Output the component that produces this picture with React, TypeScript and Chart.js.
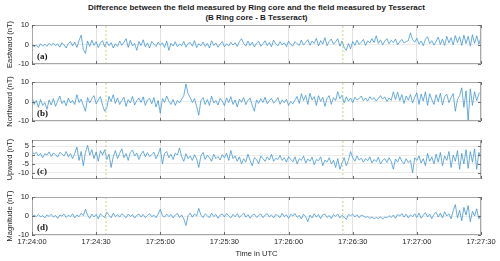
import React, { useEffect, useRef } from "react";
import { Chart, registerables } from "chart.js";

Chart.register(...registerables);
Chart.defaults.font.family = '"Liberation Sans", Arial, sans-serif';

// ---------- data ----------
const xTickLabels = ["17:24:00", "17:24:30", "17:25:00", "17:25:30", "17:26:00", "17:26:30", "17:27:00", "17:27:30"];
const xTickSeconds = [0, 30, 60, 90, 120, 150, 180, 210];
const sampleSeconds = Array.from({ length: 211 }, (_, i) => i);
const eventSeconds = [34.6, 145.4];

const eastward = [
  0.5, -1.2, -0.3, -1.5, 0.4, -0.8, 0.2, -1.0, 0.6, -0.5,
  0.8, -0.6, 0.3, -1.4, 0.9, -0.2, -1.8, 0.5, 1.5, -0.7,
  1.2, -1.5, 2.0, 4.8, -2.5, -4.6, 1.8, -1.0, 2.2, -0.5,
  1.4, -1.6, 0.8, 2.0, -1.2, 1.5, -0.6, 1.0, -1.8, 0.4,
  -1.0, 1.8, -0.4, 1.2, 3.0, -1.5, 2.2, -0.8, 0.6, -3.0,
  1.5, -0.5, 2.4, -1.2, 0.8, -1.8, 1.6, 0.2, -1.0, 1.2,
  -0.4, 0.9, -1.5, 1.8, -3.0, 0.6, -0.8, 1.4, -1.2, 0.3,
  -0.6, 1.6, -1.4, 0.5, 1.0, -0.9, 2.0, -1.6, 0.4, -0.7,
  1.3, -1.0, 0.6, -1.8, 1.9, -0.5, 0.8, -1.4, 0.3, 1.5,
  -1.2, 0.4, -0.8, 1.1, -0.3, 0.9, -1.0, 1.5, 3.0, 0.5,
  -0.8, 1.8, -0.5, 1.2, -1.3, 0.7, 1.6, -0.9, 0.4, 1.9,
  -0.6, 1.0, -1.2, 2.2, 0.3, -0.7, 1.4, -0.2, 0.9, -1.1,
  1.7, 0.1, -0.8, 1.5, 0.4, -0.5, 2.3, -0.3, 1.1, 2.5,
  -0.4, 1.8, 0.6, 3.2, -0.8, 2.0, 0.2, 3.5, -0.6, 1.6,
  2.8, 0.1, 1.4, 3.0, -0.9, 1.8, -1.5, -3.0, 0.5, -2.2,
  1.6, -0.4, 2.2, 0.0, 1.2, 2.6, -0.5, 1.9, 0.8, 3.0,
  1.0, 4.5, 0.6, 2.4, -0.2, 1.8, 3.0, 0.4, 2.2, 1.0,
  2.8, -0.2, 1.5, 2.6, 0.8, 1.4, 2.0, 6.0, 2.5, 1.2,
  3.2, 0.2, 1.8, -0.6, 2.6, 4.0, 0.5, 2.0, -0.3, 1.5,
  3.8, 0.0, 2.8, -0.5, 4.2, 0.8, 3.5, -0.2, 4.6, 1.0,
  4.0, -0.5, 4.8, 0.5, 4.2, -0.8, 5.0, 0.6, 4.5, 0.2, 3.8,
];

const northward = [
  2.5, -1.5, 0.5, -3.0, 1.0, -2.0, -0.5, -4.0, 0.8, -1.8,
  1.5, -2.5, 0.2, 2.8, -1.0, 0.5, -2.2, 1.8, -0.8, 0.6,
  -1.5, 3.5, -0.5, 1.2, -2.0, -5.0, 2.0, -0.8, 1.5, 3.0,
  -1.2, 0.8, 2.5, -2.0, -5.0, -3.2, 2.6, 0.0, 3.5, -1.0,
  1.8, -1.5, 0.5, 2.2, -2.5, 1.0, -0.8, 2.6, -1.8, 0.4,
  1.8, -0.5, 2.4, -2.0, 0.8, 1.6, -1.2, 2.0, -2.8, 0.5,
  -6.0, 1.5, -0.5, 2.8, 0.2, -1.5, 1.0, -2.0, 0.6, -0.8,
  1.2, 3.0, 9.0, 4.0, 2.0, -0.5, 1.5, -2.5, -7.0, 0.5,
  2.0, -1.5, 1.0, -2.0, 2.8, -0.8, 0.5, -1.8, 1.6, 0.2,
  -2.2, 1.8, -0.6, 2.5, -1.5, 0.8, -2.8, 1.2, -0.4, 2.0,
  -1.6, 0.6, 1.8, -2.0, -5.0, 0.8, -1.0, 1.5, -0.5, 2.2,
  -1.2, 0.4, 1.6, -0.8, 0.2, 2.0, -1.4, 0.8, -0.6, 1.2,
  -2.0, 0.0, -1.2, 0.8, 2.6, -1.0, 4.0, 0.5, 3.2, -1.5,
  4.2, 0.8, 2.5, -2.0, 3.0, 0.0, 2.2, -2.5, 1.5, 3.0,
  -1.5, 2.0, 0.5, 5.0, 1.5, 3.2, -0.8, 2.4, 0.2, 1.8,
  -0.6, 2.2, 0.8, 1.5, 2.8, 0.4, 1.8, 0.2, 2.5, 1.0,
  2.0, 0.2, 1.6, 3.0, 1.2, 2.4, 0.0, 1.8, 0.6, 5.0,
  1.0, 4.8, 0.5, 3.5, -1.0, 2.8, 0.6, 3.6, -0.8, 2.2,
  4.5, -1.5, 3.8, 0.2, 5.0, -2.0, 4.0, 1.0, -1.5, 3.5,
  0.0, 4.2, -1.8, 2.5, 3.8, -0.6, 2.0, 4.0, -5.0, 1.0,
  3.0, 7.0, -3.0, 5.5, -10.0, 6.5, -2.0, 5.0, 0.5, 4.0, 5.0,
];

const upward = [
  2.0, 0.5, 1.5, -0.5, 1.0, -1.5, 0.8, 0.0, 1.8, -0.8,
  1.2, 0.3, -1.2, 1.5, 0.6, -0.5, 2.0, -1.0, 0.8, -2.0,
  1.0, 4.5, -3.0, 2.0, -6.0, 1.5, 5.5, 0.0, 3.0, -2.0,
  1.8, -3.5, 2.5, 0.0, 3.0, -2.5, 0.5, -7.0, -1.0, 2.5,
  -2.0, 1.0, 3.5, -1.5, 0.8, -3.0, 1.5, 2.8, -0.5, 1.2,
  -2.5, 0.6, 2.2, -1.0, 1.4, -0.8, 0.2, 1.6, -2.0, 0.5,
  4.0, -5.0, 1.0, 2.0, -1.5, 0.5, -2.5, 1.2, 0.0, 4.0,
  -1.0, -3.5, 0.8, -2.0, -0.5, -3.0, 0.2, -2.2, -7.0, -0.5,
  1.5, -2.5, 0.0, -1.5, -3.5, 0.5, -2.0, -0.8, -2.8, 0.2,
  -1.5, 1.0, -3.0, 2.5, -2.0, -0.5, -3.5, -1.0, -5.0, -2.0,
  -4.0, 0.5, -3.0, -6.0, -1.5, -2.5, -5.0, -0.5, -2.0, -3.5,
  -1.0, -2.8, 0.5, -3.5, -1.8, -2.5, -0.2, -3.0, -1.5, -4.0,
  -0.8, -2.5, -3.8, -1.0, -5.0, -2.0, -3.0, -0.5, -4.5, -2.2,
  -3.5, -1.2, -5.5, -2.5, -3.2, -1.0, -6.0, -2.8, -4.0, -1.5,
  -5.0, -3.0, -7.0, -2.0, -8.0, -4.5, -1.5, -6.0, -3.0, 2.0,
  -1.5, -3.5, -0.5, -2.8, -1.8, -4.0, -2.0, -3.2, -1.0, -4.5,
  -2.5, -3.8, -1.2, -5.0, -3.0, -2.0, -4.2, -1.5, -3.5, -8.0,
  -2.2, -4.0, -1.0, -3.5, -5.0, -2.0, -4.2, -3.0, -10.0, -1.5,
  -3.0, -0.5, -4.5, -2.0, -6.0, 1.0, -3.5, -1.0, -5.0, 0.5,
  -4.0, 1.5, -6.0, -0.5, -3.0, 2.0, -7.0, 0.0, -3.5, 2.5,
  -8.0, 1.0, -5.0, 3.0, -7.5, 2.0, -4.0, 3.5, -8.0, 1.5, -2.0,
];

const magnitude = [
  -0.8, 0.5, -0.3, 0.8, -0.5, 0.2, -1.0, 0.6, -0.2, 0.9,
  -0.6, 0.3, -1.2, 0.5, 0.0, 1.0, -0.8, 0.4, -0.3, 1.2,
  -1.0, 0.6, -0.4, 1.5, 0.2, 3.5, 0.5, -1.2, 1.0, -0.5,
  0.8, -1.5, 1.2, 0.0, -0.8, 2.0, 0.4, -1.0, 1.5, -0.3,
  0.7, -0.6, 1.2, 0.2, -0.9, 1.0, -0.2, 0.6, -1.1, 0.4,
  1.0, -0.5, 0.8, -0.8, 0.3, 1.2, -0.4, 0.5, -0.9, 1.0,
  3.5, 0.2, -0.6, 1.0, -0.3, 0.8, -1.0, 0.5, 1.4, -0.8,
  0.6, -1.5, -5.0, 0.2, 1.5, -0.6, 1.0, 0.0, 4.0, 0.5,
  -0.8, 1.2, 0.2, -1.0, 1.5, -0.3, 0.8, -1.2, 0.6, 1.0,
  -0.5, 1.4, 0.0, -1.0, 0.9, -0.4, 1.2, -0.8, 0.5, 1.6,
  -0.6, 0.8, -1.2, 0.4, 1.0, -0.7, 0.3, 1.1, -0.9, 0.5,
  1.2, -0.5, 0.6, -1.0, 0.8, 0.2, -0.8, 1.4, -0.3, 0.6,
  -1.2, 0.9, 0.0, 1.3, -0.7, 0.4, -1.5, 1.0, -0.4, -3.0,
  0.5, -1.0, 1.2, -0.6, 0.8, -1.4, 0.6, 1.0, -0.8, 0.3,
  -1.3, 0.8, -0.2, 1.1, -1.0, 0.4, -0.6, -1.8, 0.9, 0.2,
  1.0, -0.5, 0.7, -0.9, 0.5, 0.0, -0.7, -0.3, -1.2, -0.5,
  -1.5, -0.8, -1.3, -0.4, -1.6, -0.6, -1.0, 0.2, -0.8, 0.5,
  -1.2, 0.8, 0.0, 1.3, -0.6, 1.0, -1.0, 0.6, -0.4, 1.2,
  -0.8, 1.5, -1.2, 0.4, 1.8, -0.5, 1.0, -1.4, 0.9, 2.0,
  -0.6, 1.6, -1.0, 2.2, 0.0, 1.2, -1.5, 2.8, 6.0, -1.0,
  3.0, -2.5, 4.5, 0.5, 5.5, -3.0, 2.5, 0.0, 3.8, -1.5, 1.0,
];

const panelSeries = [eastward, northward, upward, magnitude];
const panelLetters = ["(a)", "(b)", "(c)", "(d)"];
const axisTitles = ["Eastward (nT)", "Northward (nT)", "Upward (nT)", "Magnitude (nT)"];
const yMins = [-10, -10, -13.5, -10];
const yMaxs = [10, 10, 8.5, 10];
const yTickValues = [
  [-10, -5, 0, 5, 10],
  [-10, -5, 0, 5, 10],
  [-10, -5, 0, 5],
  [-10, -5, 0, 5, 10],
];
const titleLines = [
  "Difference between the field measured by Ring core and the field measured by Tesseract",
  "(B Ring core - B Tesseract)",
];
const xAxisTitle = "Time in UTC";

// ---------- layout ----------
const PANEL_TOPS = [25, 82, 140, 197];
const PANEL_HEIGHTS = [39, 39, 39, 38];
const PAD_TOP = 18;
const PLOT_LEFT = 32;
const PLOT_RIGHT = 481;

const framePlugin = {
  id: "panelFrame",
  afterDraw(chart: any, _args: any, opts: any) {
    const { ctx, chartArea } = chart;
    const { left, right, top, bottom } = chartArea;
    ctx.save();
    ctx.strokeStyle = "#a8a8a8";
    ctx.lineWidth = 1;
    ctx.strokeRect(Math.round(left) + 0.5, Math.round(top) + 0.5, Math.round(right - left) - 1, Math.round(bottom - top) - 1);
    ctx.strokeStyle = "#6a6a6a";
    ctx.beginPath();
    const xs = chart.scales.x;
    xs.ticks.forEach((t: any) => {
      const px = Math.round(xs.getPixelForValue(t.value)) + 0.5;
      ctx.moveTo(px, bottom);
      ctx.lineTo(px, bottom - 3);
      ctx.moveTo(px, top);
      ctx.lineTo(px, top + 3);
    });
    const ys = chart.scales.y;
    ys.ticks.forEach((t: any) => {
      const py = Math.round(ys.getPixelForValue(t.value)) + 0.5;
      ctx.moveTo(left, py);
      ctx.lineTo(left + 3, py);
      ctx.moveTo(right, py);
      ctx.lineTo(right - 3, py);
    });
    ctx.stroke();
    ctx.fillStyle = "#111";
    ctx.font = 'bold 9px "Liberation Serif", "Times New Roman", serif';
    ctx.textBaseline = "middle";
    ctx.textAlign = "left";
    ctx.fillText(opts.label, left + 5, bottom - 7);
    ctx.restore();
  },
};

function fmtTick(v: number) {
  const i = xTickSeconds.indexOf(v);
  return i >= 0 ? xTickLabels[i] : "";
}

function Panel({ idx }: { idx: number }) {
  const ref = useRef<HTMLCanvasElement>(null);
  const isLast = idx === panelSeries.length - 1;
  const bottomExtra = isLast ? 261 - (PANEL_TOPS[idx] + PANEL_HEIGHTS[idx]) : 18;
  const canvasTop = PANEL_TOPS[idx] - PAD_TOP;
  const canvasHeight = PAD_TOP + PANEL_HEIGHTS[idx] + bottomExtra;

  useEffect(() => {
    const values = panelSeries[idx];
    const ymin = yMins[idx];
    const ymax = yMaxs[idx];
    const datasets: any[] = [
      {
        data: values.map((v, i) => ({ x: sampleSeconds[i], y: v })),
        borderColor: "#3a91d2",
        borderWidth: 0.75,
        pointRadius: 0,
        tension: 0,
        order: 1,
      },
      ...eventSeconds.map((s) => ({
        data: [
          { x: s, y: ymin },
          { x: s, y: ymax },
        ],
        borderColor: "#b3cc62",
        borderWidth: 0.8,
        borderDash: [2, 2],
        pointRadius: 0,
        order: 0,
      })),
    ];
    const chart = new Chart(ref.current!, {
      type: "line",
      data: { datasets },
      plugins: [framePlugin],
      options: {
        animation: false,
        responsive: false,
        events: [],
        layout: { padding: { top: PAD_TOP, right: 500 - PLOT_RIGHT, left: 0, bottom: 0 } },
        plugins: {
          legend: { display: false },
          tooltip: { enabled: false },
          panelFrame: { label: panelLetters[idx] },
        } as any,
        scales: {
          x: {
            type: "linear",
            min: 0,
            max: 210,
            afterBuildTicks: (s: any) => {
              s.ticks = xTickSeconds.map((v) => ({ value: v }));
            },
            afterFit: (s: any) => {
              s.height = bottomExtra;
            },
            ticks: {
              display: isLast,
              autoSkip: false,
              maxRotation: 0,
              padding: 2,
              color: "#262626",
              font: { size: 7.5 },
              callback: (v: any) => fmtTick(Number(v)),
            },
            grid: { color: "#e2e2e2", drawTicks: false, lineWidth: 1 },
            border: { display: false },
            title: {
              display: isLast,
              text: xAxisTitle,
              color: "#262626",
              font: { size: 7.5 },
              padding: { top: 0, bottom: 3 },
            },
          },
          y: {
            type: "linear",
            min: ymin,
            max: ymax,
            afterBuildTicks: (s: any) => {
              s.ticks = yTickValues[idx].map((v) => ({ value: v }));
            },
            afterFit: (s: any) => {
              s.width = PLOT_LEFT;
            },
            ticks: {
              color: "#262626",
              font: { size: 7.5 },
              padding: 3,
              callback: (v: any) => String(v),
            },
            grid: { color: "#ececec", drawTicks: false, lineWidth: 1 },
            border: { display: false },
            title: {
              display: true,
              text: axisTitles[idx],
              color: "#262626",
              font: { size: 7.5 },
              padding: { top: 5, bottom: 0 },
            },
          },
        },
      } as any,
    });
    return () => chart.destroy();
  }, [idx]);

  return (
    <canvas
      ref={ref}
      width={500}
      height={canvasHeight}
      style={{ position: "absolute", left: 0, top: canvasTop, width: 500, height: canvasHeight }}
    />
  );
}

export default function App() {
  return (
    <div
      style={{
        position: "absolute",
        left: 0,
        top: 0,
        width: 500,
        height: 261,
        background: "#ffffff",
        overflow: "hidden",
      }}
    >
      {titleLines.map((t, i) => (
        <div
          key={i}
          style={{
            position: "absolute",
            left: 0,
            width: PLOT_LEFT + PLOT_RIGHT,
            top: 3 + i * 10,
            textAlign: "center",
            font: 'bold 8px "Liberation Sans", Arial, sans-serif',
            lineHeight: "10px",
            color: "#1a1a1a",
            whiteSpace: "nowrap",
          }}
        >
          {t}
        </div>
      ))}
      {panelSeries.map((_, i) => (
        <Panel key={i} idx={i} />
      ))}
    </div>
  );
}
